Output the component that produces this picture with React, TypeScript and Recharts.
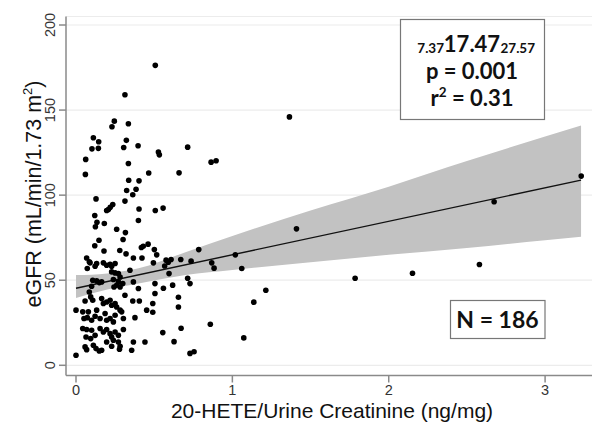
import { ComposedChart, XAxis, YAxis, CartesianGrid, Scatter, Line, Area, Customized } from "recharts";

// 20-HETE/creatinine (x) vs eGFR (y), one pair per subject
const points: [number, number][] = [
  [0.507, 176.3], [0.313, 159], [0.245, 143.5], [0.23, 140.2], [0.335, 142], [0.111, 133.7],
  [0.145, 131.4], [0.102, 127.2], [0.143, 127.5], [0.322, 132.2], [0.305, 128], [0.397, 129],
  [0.527, 125.3], [0.533, 123.7], [0.062, 121], [1.365, 146], [0.714, 128.2], [0.864, 119.4],
  [0.896, 120.2], [0.335, 118.6], [0.06, 112.2], [0.465, 113], [0.337, 108.8], [0.403, 108.4],
  [0.324, 102.7], [0.384, 103.5], [0.363, 100.2], [0.659, 113.1], [0.128, 97.8], [0.313, 96.5],
  [0.235, 94.5], [0.219, 92.9], [0.207, 91.6], [0.196, 91], [0.403, 91.9], [0.507, 91],
  [0.557, 92.4], [0.12, 88], [0.134, 84.1], [0.124, 81.4], [0.181, 83.3], [0.399, 85.1],
  [0.26, 80], [0.316, 78], [0.147, 73.5], [0.301, 73.9], [0.179, 67.2], [0.28, 67.5],
  [0.418, 69.2], [0.43, 70], [0.461, 71.2], [0.501, 68], [0.516, 64.9], [0.068, 63.1],
  [0.367, 63.1], [0.422, 63.1], [0.576, 61.8], [0.608, 62.2], [0.785, 68], [1.41, 80.2],
  [0.59, 60.6], [0.567, 58.4], [0.67, 62.2], [0.736, 61.2], [0.868, 60.2], [0.883, 57.1],
  [1.019, 64.9], [1.06, 56.9], [0.595, 53.9], [0.714, 51.2], [0.729, 48], [0.559, 45.3],
  [0.618, 47.1], [1.214, 44.1], [0.655, 40], [0.655, 34.3], [1.137, 37.1], [0.859, 24.1],
  [0.555, 19.2], [0.672, 21.8], [0.627, 13.9], [1.073, 16.1], [0.729, 7], [0.755, 8],
  [1.785, 51.2], [2.152, 54.1], [2.58, 59.2], [2.674, 96.1], [3.231, 111.2],
  [0.09, 60.2], [0.122, 58.2], [0.132, 59.8], [0.072, 56.9], [0.175, 60.2], [0.196, 58.8],
  [0.218, 59.4], [0.228, 58.2], [0.25, 59.8], [0.228, 54.9], [0.25, 54.3], [0.271, 53.9],
  [0.282, 51.9], [0.345, 55.9], [0.495, 60.2], [0.107, 50], [0.132, 49.6], [0.149, 48.6],
  [0.164, 49], [0.1, 46.5], [0.239, 50.4], [0.271, 49], [0.299, 48], [0.282, 46],
  [0.243, 46], [0.26, 47], [0.313, 41.2], [0.367, 49], [0.399, 45.1], [0.505, 48],
  [0.505, 42.2], [0.085, 43.1], [0.094, 40.2], [0.107, 38.2], [0.058, 37.8], [0.0, 32.4],
  [0.164, 39.2], [0.175, 36.3], [0.196, 37.2], [0.218, 38.2], [0.228, 35.3], [0.25, 36.3],
  [0.26, 34.3], [0.282, 32.4], [0.292, 31.4], [0.363, 37.8], [0.405, 37.8], [0.452, 32.4],
  [0.491, 31.2], [0.491, 36.3], [0.377, 28], [0.043, 31.4], [0.079, 31.4], [0.051, 27.5],
  [0.072, 28], [0.1, 26.5], [0.132, 32.4], [0.122, 28.8], [0.154, 27.5], [0.186, 30.4],
  [0.196, 26.5], [0.218, 27.5], [0.239, 25.5], [0.25, 29.4], [0.303, 27.5], [0.043, 21.6],
  [0.068, 21], [0.1, 20.6], [0.064, 16.6], [0.094, 15.7], [0.122, 17.6], [0.154, 21.6],
  [0.175, 19.6], [0.196, 21], [0.218, 18.6], [0.228, 16.6], [0.25, 19.6], [0.271, 17.6],
  [0.303, 21], [0.058, 10.8], [0.068, 9.2], [0.111, 11.8], [0.128, 9.8], [0.149, 8.4],
  [0.164, 8.8], [0.0, 5.9], [0.196, 13.7], [0.228, 11.2], [0.239, 14.7], [0.271, 13.7],
  [0.282, 11.2], [0.356, 8.8], [0.367, 13.7], [0.441, 13.7], [0.278, 9.4], [0.32, 65.5],
  [0.12, 70.3], [0.085, 60.8],
];

// fitted line and its confidence band
const fitX = [0, 3.23];
const fitY = [45.3, 108.8];
const bandX = [0, 0.2, 0.4, 0.7, 1.0, 1.5, 2.0, 2.5, 3.0, 3.23];
const bandLow = [39.5, 44.5, 48, 53, 56, 60.5, 65, 69, 73.5, 75.5];
const bandHigh = [53, 54, 57, 66.5, 76, 91, 105, 120, 134.5, 141];

const xTicks = [0, 1, 2, 3];
const yTicks = [0, 50, 100, 150, 200];

const estLow = "7.37";
const estMid = "17.47";
const estHigh = "27.57";
const pLabel = "p = 0.001";
const r2Value = "0.31";
const nLabel = "N = 186";

const scatterData = points.map(([x, y]) => ({ x, y }));
const fitData = fitX.map((x, i) => ({ x, fit: fitY[i] }));
const bandData = bandX.map((x, i) => ({ x, band: [bandLow[i], bandHigh[i]] }));

const AXIS = "#8a8a8a";
const SANS = "'Liberation Sans', Arial, sans-serif";
const BOX = "Lato, 'Open Sans', sans-serif";

const YTick = (props: any) => {
  const { x, y, payload } = props;
  return (
    <text x={x} y={y} transform={`rotate(-90 ${x} ${y})`} textAnchor="middle" dominantBaseline="central"
      fill="#333" fontSize={14.5} fontFamily={SANS}>{payload.value}</text>
  );
};

const Annotations = () => (
  <g fontFamily={BOX} fontWeight={700} fill="#111">
    <rect x={400.5} y={19.5} width={144} height={100} fill="#fff" stroke="#777" strokeWidth={1.2} />
    <text x={444} y={53} textAnchor="end" fontSize={13.5}>{estLow}</text>
    <text x={472} y={52} textAnchor="middle" fontSize={22}>{estMid}</text>
    <text x={500.5} y={53} textAnchor="start" fontSize={13.5}>{estHigh}</text>
    <text x={472} y={79} textAnchor="middle" fontSize={22}>{pLabel}</text>
    <text x={472} y={106} textAnchor="middle" fontSize={22}>
      r<tspan fontSize={13.5} dy={-9}>2</tspan><tspan dy={9}> = {r2Value}</tspan>
    </text>
    <rect x={450.5} y={300.5} width={94.5} height={38} fill="#fff" stroke="#777" strokeWidth={1.2} />
    <text x={497.5} y={328} textAnchor="middle" fontSize={23}>{nLabel}</text>
  </g>
);

export default function App() {
  return (
    <div style={{ position: "absolute", left: 0, top: 0, background: "#fff" }}>
      <ComposedChart width={601} height={436} margin={{ top: 16.5, right: 9, bottom: 0, left: 0 }}>
        <CartesianGrid vertical={false} stroke="#ececec" strokeWidth={1.2} />
        <XAxis
          type="number"
          dataKey="x"
          domain={[-0.064, 3.3]}
          ticks={xTicks}
          allowDataOverflow
          height={60.5}
          stroke={AXIS}
          strokeWidth={1.5}
          tickSize={7}
          tickMargin={2.5}
          tick={{ fill: "#333", fontSize: 14.5, fontFamily: SANS }}
          label={{
            content: () => (
              <text x={332} y={418} textAnchor="middle" fontSize={21} fontFamily={SANS} fill="#111">
                20-HETE/Urine Creatinine (ng/mg)
              </text>
            ),
          }}
        />
        <YAxis
          type="number"
          domain={[-6, 205]}
          ticks={yTicks}
          allowDataOverflow
          width={66}
          stroke={AXIS}
          strokeWidth={1.5}
          tickSize={7}
          tickMargin={9}
          tick={YTick}
          label={{
            content: () => (
              <text x={41} y={194} transform="rotate(-90 41 194)" textAnchor="middle" fontSize={21.5}
                fontFamily={SANS} fill="#111">
                eGFR (mL/min/1.73 m<tspan fontSize={13} dy={-9}>2</tspan><tspan dy={9}>)</tspan>
              </text>
            ),
          }}
        />
        <Area data={bandData} dataKey="band" type="monotone" fill="#c2c2c2" fillOpacity={1} stroke="none"
          isAnimationActive={false} />
        <Line data={fitData} dataKey="fit" type="linear" stroke="#111" strokeWidth={1.4} dot={false}
          isAnimationActive={false} />
        <Scatter data={scatterData} dataKey="y" isAnimationActive={false}
          shape={(p: any) => <circle cx={p.cx} cy={p.cy} r={2.8} fill="#000" />} />
        <Customized component={Annotations} />
      </ComposedChart>
    </div>
  );
}
